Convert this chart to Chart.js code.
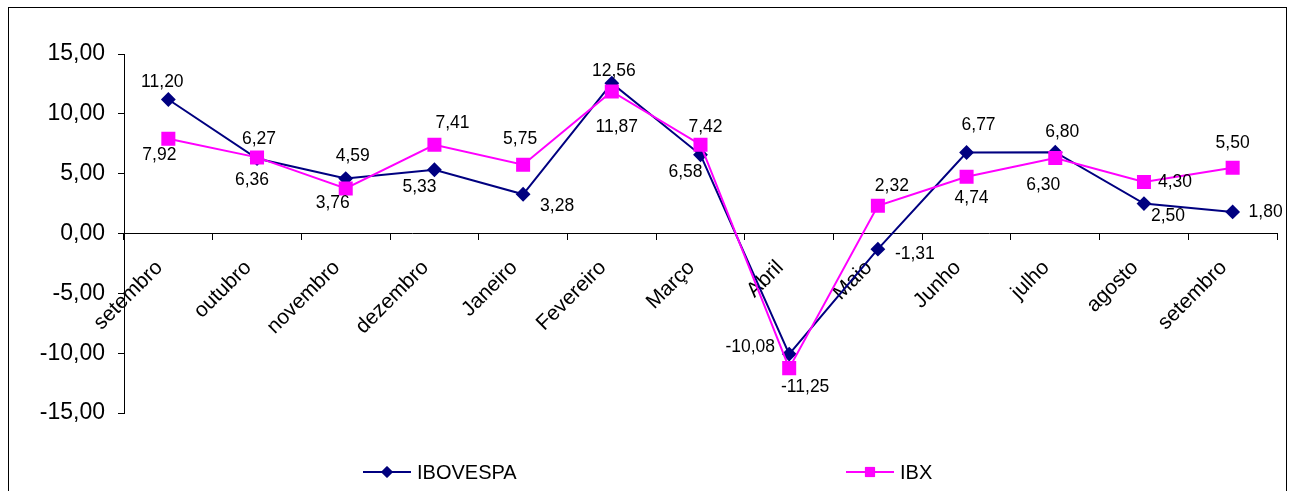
<!DOCTYPE html>
<html>
<head>
<meta charset="utf-8">
<script src="https://cdn.jsdelivr.net/npm/chart.js@4"></script>
<style>
html,body{margin:0;padding:0;background:#fff}
#wrap{width:1289px;height:491px;position:relative}
</style>
</head>
<body>
<div id="wrap"><canvas id="chart"></canvas></div>
<script>
// data
const months=['setembro','outubro','novembro','dezembro','Janeiro','Fevereiro','Março','Abril','Maio','Junho','julho','agosto','setembro'];
const ibovespa=[11.20,6.27,4.59,5.33,3.28,12.56,6.58,-10.08,-1.31,6.77,6.80,2.50,1.80];
const ibx=[7.92,6.36,3.76,7.41,5.75,11.87,7.42,-11.25,2.32,4.74,6.30,4.30,5.50];
const yTicks=[-15,-10,-5,0,5,10,15];

// where each value label sits relative to its marker (dx, dy)
const iboLabelNudge=[[-6,-17],[2,-19],[7,-22],[-15,17],[34,12],[2,-12],[-15,17],[-39,-7],[37,5],[12,-27],[7,-20],[24,13],[33,0]];
const ibxLabelNudge=[[-9,16],[-5,23],[-13,15],[18,-22],[-3,-26],[5,36],[5,-18],[16,19],[14,-20],[5,21],[-12,27],[31,0],[0,-25]];

const FONT='"Liberation Sans", Arial, sans-serif';
const fmt=v=>v.toFixed(2).replace('.',',');

const frame={
  id:'frame',
  beforeDraw(c){
    const ctx=c.ctx;
    ctx.save();
    ctx.fillStyle='#fff';
    ctx.fillRect(0,0,c.width,c.height);
    ctx.strokeStyle='#000';
    ctx.lineWidth=1;
    ctx.strokeRect(8.5,7.5,1278,520);
    ctx.restore();
  }
};

const valueLabels={
  id:'valueLabels',
  afterDatasetsDraw(c){
    const ctx=c.ctx;
    const nudges=[iboLabelNudge,ibxLabelNudge];
    ctx.save();
    ctx.font='17.5px '+FONT;
    ctx.fillStyle='#000';
    ctx.textAlign='center';
    ctx.textBaseline='middle';
    c.data.datasets.forEach((ds,i)=>{
      c.getDatasetMeta(i).data.forEach((pt,j)=>{
        const n=nudges[i][j];
        ctx.fillText(fmt(ds.data[j]),pt.x+n[0],pt.y+n[1]);
      });
    });
    ctx.restore();
  }
};

// Excel-style legend: line with marker in the middle
const bottomLegend={
  id:'bottomLegend',
  afterDraw(c){
    const ctx=c.ctx;
    const y=472;
    const items=[{x:363,r:5.5,ds:c.data.datasets[0]},{x:846,r:6.5,ds:c.data.datasets[1]}];
    ctx.save();
    items.forEach(it=>{
      ctx.strokeStyle=it.ds.borderColor;
      ctx.lineWidth=2;
      ctx.beginPath();
      ctx.moveTo(it.x,y);ctx.lineTo(it.x+48,y);
      ctx.stroke();
      ctx.lineWidth=1;
      Chart.helpers.drawPoint(ctx,{pointStyle:it.ds.pointStyle,radius:it.r,borderWidth:1},it.x+24,y);
      ctx.fillStyle=it.ds.backgroundColor;
      ctx.fill();
      ctx.fillStyle='#000';
      ctx.font='20px '+FONT;
      ctx.textAlign='left';
      ctx.textBaseline='middle';
      ctx.fillText(it.ds.label,it.x+54,y+1);
    });
    ctx.restore();
  }
};

new Chart(document.getElementById('chart'),{
  type:'line',
  data:{
    labels:months,
    datasets:[
      {
        label:'IBOVESPA',
        data:ibovespa,
        borderColor:'#000080',
        backgroundColor:'#000080',
        borderWidth:2,
        pointStyle:'rectRot',
        pointRadius:6,
        pointHoverRadius:6,
        tension:0,
        order:1
      },
      {
        label:'IBX',
        data:ibx,
        borderColor:'#ff00ff',
        backgroundColor:'#ff00ff',
        borderWidth:2,
        pointStyle:'rect',
        pointRadius:8.5,
        pointHoverRadius:8.5,
        tension:0,
        order:0
      }
    ]
  },
  options:{
    responsive:true,
    maintainAspectRatio:false,
    animation:false,
    events:[],
    layout:{padding:{top:54,right:12,bottom:78,left:0}},
    plugins:{legend:{display:false},tooltip:{enabled:false}},
    scales:{
      x:{
        position:{y:0},
        offset:true,
        grid:{offset:true,drawOnChartArea:false,drawTicks:true,tickLength:6,color:'#000'},
        border:{color:'#000',width:1},
        ticks:{color:'#000',font:{family:FONT,size:21},minRotation:45,maxRotation:45,padding:16,labelOffset:-9,autoSkip:false}
      },
      y:{
        min:-15,
        max:15,
        afterBuildTicks:s=>{s.ticks=yTicks.map(v=>({value:v}));},
        afterFit:s=>{s.width=124;},
        grid:{drawOnChartArea:false,drawTicks:true,tickLength:6,color:'#000'},
        border:{color:'#000',width:1},
        ticks:{color:'#000',font:{family:FONT,size:23},padding:13,callback:v=>fmt(v)}
      }
    }
  },
  plugins:[frame,valueLabels,bottomLegend]
});
</script>
</body>
</html>
